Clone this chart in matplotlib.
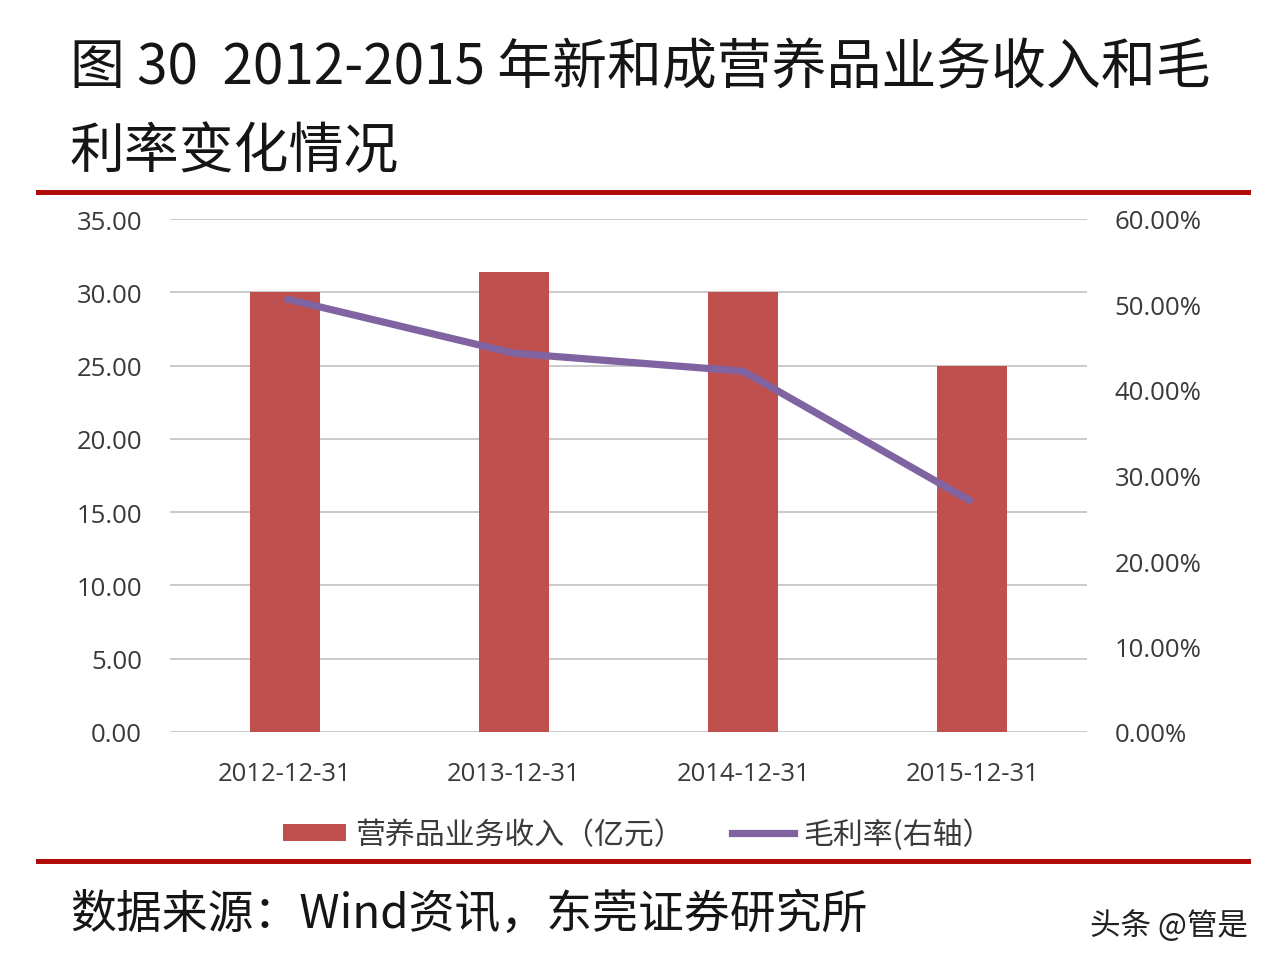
import numpy as np
import matplotlib
matplotlib.use("Agg")
import matplotlib.pyplot as plt
from matplotlib.lines import Line2D
from matplotlib.patches import Patch
from matplotlib.ticker import FuncFormatter

plt.rcParams['font.family'] = ['Noto Sans CJK SC', 'DejaVu Sans']

# ---- data ----
dates = ["2012-12-31", "2013-12-31", "2014-12-31", "2015-12-31"]
revenue = [30.05, 31.4, 30.05, 25.0]          # 亿元
margin = [50.7, 44.3, 42.2, 26.9]             # %
left_ticks = [0, 5, 10, 15, 20, 25, 30, 35]
right_ticks = [0, 10, 20, 30, 40, 50, 60]

bar_color = "#C0504D"
line_color = "#8064A2"
rule_color = "#B00C0C"
tick_font = "Open Sans"

fig = plt.figure(figsize=(12.76, 9.70), dpi=100)
fig.patch.set_facecolor("white")

ax = fig.add_axes([170/1276, 1 - 733/970, (1087 - 170)/1276, (733 - 220)/970])
ax2 = ax.twinx()

x = np.arange(len(dates))
ax.bar(x, revenue, width=0.306, color=bar_color, zorder=2)
ax.set_xlim(-0.5, 3.5)
ax.set_ylim(0, 35)
ax.set_yticks(left_ticks)
ax.yaxis.set_major_formatter(FuncFormatter(lambda v, p: f"{v:.2f}"))
ax.grid(axis="y", color="#C6C6C6", linewidth=1.3, zorder=0)
ax.set_axisbelow(True)
ax.set_xticks(x)
ax.set_xticklabels(dates)

ax2.plot(x, margin, color=line_color, linewidth=5.2, solid_capstyle="butt", zorder=3)
ax2.set_ylim(0, 60)
ax2.set_yticks(right_ticks)
ax2.yaxis.set_major_formatter(FuncFormatter(lambda v, p: f"{v:.2f}%"))

for a in (ax, ax2):
    for s in a.spines.values():
        s.set_visible(False)
    a.tick_params(length=0, labelsize=18.5, labelcolor="#3a3a3a")
    for lab in a.get_xticklabels() + a.get_yticklabels():
        lab.set_fontfamily(tick_font)
ax.tick_params(axis="y", pad=20)
ax.tick_params(axis="x", pad=21)
ax2.tick_params(axis="y", pad=20)

# title
fig.text(70/1276, 1 - 68/970, "图 30  2012-2015 年新和成营养品业务收入和毛",
         fontsize=39.5, color="#151515", va="center", ha="left")
fig.text(70/1276, 1 - 152/970, "利率变化情况",
         fontsize=39.5, color="#151515", va="center", ha="left")

# red rules
fig.add_artist(Line2D([38/1276, 1248/1276], [1 - 193/970] * 2, color=rule_color, linewidth=3.6))
fig.add_artist(Line2D([38/1276, 1248/1276], [1 - 862/970] * 2, color=rule_color, linewidth=3.6))

# legend
handles = [Patch(facecolor=bar_color, edgecolor="none"),
           Line2D([], [], color=line_color, linewidth=5.2)]
labels = ["营养品业务收入（亿元）", "毛利率(右轴）"]
fig.legend(handles, labels, loc="center", bbox_to_anchor=(0.5, 1 - 835/970),
           ncol=2, frameon=False, fontsize=21.5, handlelength=2.1, handleheight=0.5,
           columnspacing=1.6, handletextpad=0.3, labelcolor="#3a3a3a")

# source and watermark
fig.text(70/1276, 1 - 915/970, "数据来源：Wind资讯，东莞证券研究所",
         fontsize=33, color="#151515", va="center", ha="left")
fig.text(1248/1276, 1 - 926/970, "头条 @管是",
         fontsize=22, color="#222222", va="center", ha="right")

fig.savefig("out.png", dpi=100, facecolor="white")
